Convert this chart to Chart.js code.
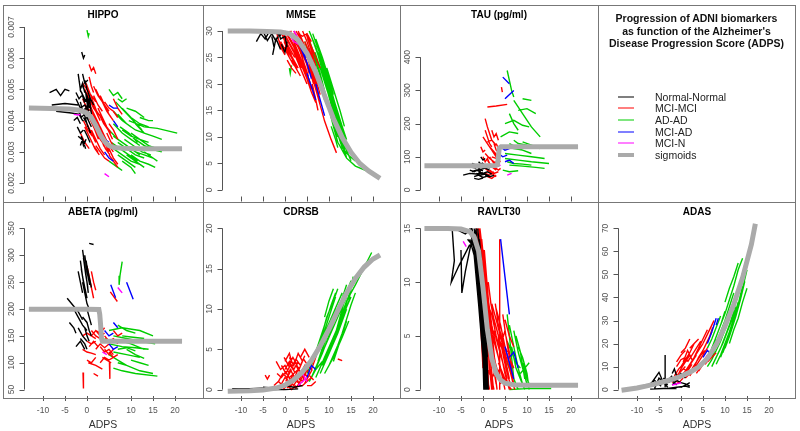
<!DOCTYPE html>
<html>
<head>
<meta charset="utf-8">
<script src="https://cdn.jsdelivr.net/npm/chart.js@4/dist/chart.umd.min.js"></script>
<style>
  body { margin: 0; background: #fff; }
  #wrap { position: relative; width: 800px; height: 431px; overflow: hidden; font-family: "Liberation Sans", Arial, sans-serif; }
  canvas { position: absolute; }
  .ln { position: absolute; background: #777; }
  .ttl { position: absolute; left: 598px; width: 197px; text-align: center; font-weight: bold; font-size: 10.5px; color: #111; }
  .leg { position: absolute; left: 655px; font-size: 10.5px; color: #222; line-height: 12px; }
  .sw { position: absolute; left: 618px; width: 16px; }
</style>
</head>
<body>
<div id="wrap">
  <canvas id="cHippo" width="198" height="197" style="left:3px;top:5px"></canvas>
  <canvas id="cMmse" width="198" height="197" style="left:201px;top:5px"></canvas>
  <canvas id="cTau" width="198" height="197" style="left:399px;top:5px"></canvas>
  <canvas id="cAbeta" width="198" height="229" style="left:3px;top:202px"></canvas>
  <canvas id="cCdrsb" width="198" height="229" style="left:201px;top:202px"></canvas>
  <canvas id="cRavlt" width="198" height="229" style="left:399px;top:202px"></canvas>
  <canvas id="cAdas" width="198" height="229" style="left:597px;top:202px"></canvas>

  <!-- marcos de los paneles -->
  <div class="ln" style="left:3px;top:5px;width:792px;height:1px"></div>
  <div class="ln" style="left:3px;top:202px;width:792px;height:1px"></div>
  <div class="ln" style="left:3px;top:398px;width:792px;height:1px"></div>
  <div class="ln" style="left:3px;top:5px;width:1px;height:394px"></div>
  <div class="ln" style="left:203px;top:5px;width:1px;height:394px"></div>
  <div class="ln" style="left:400px;top:5px;width:1px;height:394px"></div>
  <div class="ln" style="left:598px;top:5px;width:1px;height:394px"></div>
  <div class="ln" style="left:795px;top:5px;width:1px;height:394px"></div>

  <!-- panel de leyenda -->
  <div class="ttl" style="top:12px">Progression of ADNI biomarkers</div>
  <div class="ttl" style="top:24.5px">as function of the Alzheimer's</div>
  <div class="ttl" style="top:37px">Disease Progression Score (ADPS)</div>
  <div id="legend"></div>
</div>

<script>
// Datos: cada trayectoria es [x,y, x,y, ...] en unidades de ADPS y del biomarcador

let adpsTicks = [-10, -5, 0, 5, 10, 15, 20];
let groupNames = ['Normal-Normal', 'MCI-MCI', 'AD-AD', 'MCI-AD', 'MCI-N', 'sigmoids'];
let groupColors = ['#000000', '#ff0000', '#00cd00', '#0000ff', '#ff00ff', '#aaaaaa'];

// ---------------- HIPPO ----------------
let hippoTicks = [0.002, 0.003, 0.004, 0.005, 0.006, 0.007];
let hippoSig = [-13.2,0.0044, -8,0.00439, -4,0.00437, -2,0.00434, -1,0.0043, 0,0.00424, 1,0.0041, 2,0.00385, 3,0.00355, 4,0.00333, 5,0.0032, 6,0.00314, 8,0.00311, 12,0.0031, 21.6,0.0031];
let hippoNN = [
  [-8.5,0.0049, -7,0.0050, -6,0.0048, -5,0.0050, -4,0.00495],
  [-8,0.0045, -5,0.00455, -2,0.0045],
  [-7,0.0043, -4,0.00425, -1.5,0.0042],
  [-1.2,0.0062, -0.8,0.0060, -0.5,0.0061],
  [-2,0.0055, -1.5,0.0050, -1,0.0052, -0.5,0.0049],
  [-1,0.0051, 0,0.0048, 0.5,0.0046],
  [-2.5,0.0047, -1.5,0.0044, -0.5,0.0045, 0.5,0.0043],
  [-1.8,0.0042, -1,0.0040, 0,0.0041, 1,0.0038],
  [-2.2,0.0038, -1.5,0.0036, -0.8,0.0037],
  [-2,0.0035, -1.2,0.0034, -0.5,0.0033],
  [-0.5,0.0053, 0,0.0050, 0.8,0.0047, 1.5,0.0045],
  [-1.5,0.0046, -1,0.0043, -0.3,0.0044, 0.3,0.0040],
  [-0.8,0.0041, 0,0.0039, 0.8,0.0036],
  [-2.5,0.0049, -1.8,0.0047, -1.2,0.0048],
  [-1,0.0055, -0.5,0.0052, 0.2,0.0053],
  [-1.5,0.0032, -1,0.0034, -0.3,0.0031],
  [0,0.0045, 0.5,0.0042, 1.2,0.0041],
  [-3,0.0040, -2.2,0.0041, -1.5,0.0039],
  [-0.3,0.0049, 0.2,0.0044, 0.6,0.0047, 1,0.0042],
  [-1.2,0.0049, -0.6,0.0046, 0,0.0047, 0.6,0.0044],
  [-2,0.0044, -1.3,0.0041, -0.6,0.0042, 0.2,0.0038],
  [-1.6,0.0050, -0.9,0.0048, -0.2,0.0046],
  [-0.6,0.0037, 0.1,0.0035, 0.7,0.0033],
  [-1.3,0.0035, -0.8,0.0032, -0.2,0.0034]
];
let hippoMM = [
  [0.5,0.0058, 1,0.0056, 1.5,0.0057, 2,0.0055],
  [-1,0.0052, 0,0.0050, 1,0.0048, 2,0.0046],
  [0,0.0049, 1,0.0046, 2,0.0043, 3,0.0040],
  [-0.5,0.0045, 0.5,0.0042, 1.5,0.0040, 2.5,0.0037],
  [0.5,0.0041, 1.5,0.0038, 2.5,0.0035, 3.5,0.0033],
  [1,0.0037, 2,0.0034, 3,0.0031, 4,0.0029],
  [2,0.0050, 3,0.0047, 4,0.0045, 5,0.0043],
  [3,0.0048, 4,0.0045, 5,0.0042, 6,0.0040],
  [2.5,0.0044, 3.5,0.0041, 4.5,0.0038, 5.5,0.0036],
  [3,0.0038, 4,0.0035, 5,0.0032, 6,0.0030],
  [2,0.0032, 3,0.0030, 4,0.0028, 5,0.0027],
  [4,0.0034, 5,0.0031, 6,0.0028, 7,0.0026],
  [-1,0.0047, 0,0.0044, 1,0.0043],
  [0,0.0039, 1,0.0036, 2,0.0033],
  [1.5,0.0048, 2.5,0.0045, 3.5,0.0043],
  [4,0.0046, 5,0.0044, 6,0.0043, 7,0.0041],
  [5,0.0039, 6,0.0037, 7,0.0034],
  [3,0.0035, 4,0.0033, 5,0.0030],
  [5,0.0029, 6,0.0027, 7,0.0025],
  [-1.5,0.0036, -0.5,0.0033, 0.5,0.0031],
  [0.5,0.0054, 1,0.0051, 1.5,0.0049],
  [6,0.0047, 7,0.0044, 8,0.0042],
  [-0.5,0.0050, 0.5,0.0047, 1.5,0.0044, 2.5,0.0042],
  [0.3,0.0046, 1.3,0.0043, 2.3,0.0040, 3.3,0.0037],
  [1,0.0043, 2,0.0040, 3,0.0037, 4,0.0034],
  [1.8,0.0039, 2.8,0.0036, 3.8,0.0032, 4.8,0.0030],
  [0.8,0.0034, 1.8,0.0031, 2.8,0.0029],
  [2.8,0.0042, 3.8,0.0039, 4.8,0.0037, 5.8,0.0034],
  [3.5,0.0046, 4.5,0.0043, 5.5,0.0041],
  [-0.8,0.0040, 0.2,0.0037, 1.2,0.0035],
  [4.5,0.0036, 5.5,0.0033, 6.5,0.0031],
  [1.5,0.0051, 2.5,0.0048, 3.5,0.0046],
  [-0.2,0.0052, 0.6,0.0049, 1.4,0.0046, 2.2,0.0043],
  [0.2,0.0043, 1,0.0040, 1.8,0.0037, 2.6,0.0034],
  [1.2,0.0046, 2.2,0.0043, 3.2,0.0041, 4.2,0.0039],
  [2.2,0.0037, 3.2,0.0034, 4.2,0.0031, 5.2,0.0029],
  [-0.5,0.0038, 0.5,0.0035, 1.5,0.0032, 2.5,0.0030]
];
let hippoAD = [
  [0,0.0069, 0.3,0.0067, 0.5,0.0068],
  [5,0.0050, 6,0.0048, 7,0.0049, 8,0.0047],
  [7,0.0047, 8,0.0046, 9,0.0047],
  [9,0.0044, 11,0.0043, 13,0.0041],
  [7,0.0042, 9,0.0039, 11,0.0037, 13,0.0036],
  [9.5,0.0040, 13,0.0038, 16,0.00375, 20.5,0.0036],
  [6,0.0039, 8,0.0036, 10,0.0034, 12,0.0032],
  [8,0.0037, 10,0.0035, 12,0.0034, 14,0.0033],
  [6,0.0035, 8,0.0033, 10,0.0031, 12,0.0029],
  [7,0.0033, 9,0.0031, 11,0.0029, 13,0.0028],
  [9,0.0032, 11,0.0030, 13,0.0029, 15,0.0028],
  [6,0.0031, 8,0.0029, 10,0.0027, 12,0.0026],
  [7,0.0029, 9,0.0027, 11,0.0025],
  [10,0.0029, 12,0.0027, 14,0.0026, 15.5,0.0025],
  [8,0.0027, 10,0.0025, 11,0.0023],
  [5,0.0037, 7,0.0034, 9,0.0032],
  [11,0.0034, 13,0.0032, 15,0.0031],
  [6,0.0043, 8,0.0040, 10,0.0038],
  [12,0.0041, 14,0.0040, 15,0.0040],
  [5,0.0027, 7,0.0025, 8,0.0024],
  [8,0.0044, 10,0.0041, 12,0.0039, 14,0.0038],
  [10,0.0036, 12,0.0034, 14,0.0032, 16,0.0031],
  [13,0.0030, 15,0.0028, 16,0.0027],
  [7.5,0.0038, 9.5,0.0036, 11.5,0.0033],
  [9,0.0029, 11,0.0027, 13,0.0025],
  [12,0.0033, 14,0.0031, 17,0.0030],
  [6.5,0.0046, 8.5,0.0043, 10.5,0.0040, 12.5,0.0037],
  [5.5,0.0033, 7.5,0.0031, 9.5,0.0029, 11.5,0.0027],
  [11,0.0039, 13,0.0036, 15,0.0035, 17,0.0034],
  [8.5,0.0034, 10.5,0.0032, 12.5,0.0030, 14.5,0.0029]
];
let hippoMA = [
  [5,0.0045, 6,0.0044, 7,0.0044],
  [3,0.0036, 4,0.0034, 5,0.0033],
  [4,0.0030, 5,0.0028, 6,0.0027],
  [6,0.0040, 7,0.0038]
];
let hippoMN = [
  [-3,0.0042, -2,0.00418, -1.5,0.0042],
  [4,0.0023, 5,0.0022]
];

// ---------------- MMSE ----------------
let mmseTicks = [0, 5, 10, 15, 20, 25, 30];
let mmseSig = [-13,30, -8,30, -4,29.9, -1,29.8, 1,29.5, 3,28.3, 5,25.8, 7,22.2, 9,17.8, 11,13.5, 13,9.9, 15,7.1, 17,5.0, 19,3.6, 21.6,2.2];
let mmseNN = [
  [-6.5,28, -5.5,29.5, -4.5,28.5, -3.5,30],
  [-5,30, -4,28.2, -3,29.5, -2,28],
  [-3,29, -2.5,27, -2,28.5, -1,26.5],
  [-2.8,25.5, -2.2,28, -1.5,29],
  [-1.5,30, -1,28.5, 0,29, 0.5,27],
  [-2,29.8, -1.2,29, -0.5,30],
  [-0.8,27.5, 0,26, 0.5,28]
];
let mmseMM = [
  [-1,30, 0,29, 1,27.5, 2,26],
  [-0.5,29, 0.5,27, 1.5,25.5],
  [0,30, 1,28.5, 2,27, 3,25],
  [0.5,29.5, 1.5,28, 2.5,26, 3.5,24],
  [1,30, 2,28.5, 3,27, 4,25],
  [1.5,29, 2.5,27, 3.5,25, 4.5,23],
  [2,30, 3,28.5, 4,26.5, 5,24],
  [2.5,29, 3.5,27, 4.5,25, 5.5,22],
  [3,30, 4,28, 5,26, 6,23],
  [3.5,29, 4.5,27, 5.5,24, 6.5,21],
  [4,30, 5,28, 6,25.5, 7,22],
  [4.5,28, 5.5,26, 6.5,23, 7.5,20],
  [-1,28, 0,26.5, 1,25, 2,23.5],
  [0,27, 1,25, 2,23.5],
  [2,26, 3,24, 4,22, 5,20],
  [3,25, 4,23, 5,21, 6,19],
  [4,24, 5,22, 6,19.5, 7,17],
  [5,27, 6,24, 7,21, 8,18],
  [6,22, 7,19, 8,16, 9,13, 10.5,9.5, 11.7,7],
  [5,21, 6,18.5, 7,16.5],
  [1,26, 2,24.5, 3,23],
  [-0.5,30, 0.5,29.5, 1.5,30],
  [3,29.5, 4,29, 5,29.5, 6,28],
  [6,27, 7,25, 8,23],
  [0.5,24.5, 1.5,23, 2.5,22],
  [-0.8,29.5, 0.2,28, 1.2,26.5, 2.2,25],
  [0.2,29, 1.2,27.5, 2.2,26, 3.2,24],
  [0.8,28, 1.8,26.5, 2.8,25, 3.8,23],
  [1.8,29.5, 2.8,28, 3.8,26, 4.8,24],
  [2.3,28, 3.3,26.5, 4.3,24, 5.3,21.5],
  [3.3,29.5, 4.3,27.5, 5.3,25, 6.3,22],
  [3.8,28.5, 4.8,26, 5.8,23, 6.8,20],
  [4.3,27, 5.3,24.5, 6.3,21.5, 7.3,18.5],
  [4.8,29.5, 5.8,27, 6.8,24, 7.5,21],
  [1.2,28.5, 2.2,27, 3.2,25.5, 4.2,23.5],
  [2.7,26, 3.7,24, 4.7,22, 5.7,19.5],
  [3.5,27, 4.5,25, 5.5,23, 6.5,20],
  [5.5,25, 6.5,22, 7.3,19, 8,16],
  [5.2,29, 6,27, 6.8,25.5],
  [-0.2,28, 0.8,26, 1.8,24.5, 2.8,23],
  [2.5,30, 3.2,29, 4,28],
  [6.2,20, 7,17, 7.5,15],
  [1.5,24.5, 2.5,23, 3.5,21.5],
  [-2,30, -1.5,28.5, -1,27, 0,25.5],
  [-1.8,29, -1,27.5, -0.2,26]
];
let mmseAD = [
  [5,29.5, 6.5,26, 8,22, 9.5,17, 11,12, 12,9],
  [5.5,30, 7,27, 8.5,23, 10,18, 11.5,13, 12.5,10],
  [6,29, 7.5,25.5, 9,21, 10.5,16, 12,11, 13,8],
  [6.5,28, 8,24.5, 9.5,20, 11,15, 12.5,10, 13.5,7],
  [7,27, 8.5,23, 10,19, 11.5,14, 13,9.5, 14,6],
  [7.5,26, 9,22, 10.5,18, 12,13.5, 13.5,9],
  [8,25, 9.5,21, 11,17, 12.5,13, 14,8.5],
  [5,27, 6.5,24, 8,20, 9,17],
  [6,25, 7.5,21.5, 9,18, 10.5,14],
  [8,21, 9.5,17, 11,13, 12,10],
  [9,18, 10.5,14, 12,10.5, 13,8],
  [11,15, 12.5,11, 14,7.5, 15,5.5],
  [12,9, 14,6, 16,4.5, 19.5,3.3],
  [10,20, 11.5,16, 13,12, 14,9.5],
  [7,28.5, 8.5,25, 10,21, 11,18],
  [4.5,28, 5.5,25.5, 6.5,23],
  [6,26.5, 7,24, 8,21.5],
  [9.5,23, 11,19, 12.5,15, 13.5,12],
  [1,23, 1.2,22, 1.5,23.5],
  [10.5,12, 11.5,9.5, 12,8],
  [5.2,28.5, 6.7,25, 8.2,21, 9.7,16.5, 11,12.5],
  [6.3,29.5, 7.8,26, 9.3,22, 10.8,17, 12.2,12],
  [7.3,27.5, 8.8,23.5, 10.3,19.5, 11.8,15, 13.2,10.5],
  [8.5,24, 10,20, 11.5,15.5, 13,11, 14.5,7],
  [6.8,26, 8.2,22.5, 9.7,18.5, 11.2,14],
  [10.2,17, 11.7,13, 13.2,9, 14.8,6],
  [13,8, 14.5,6.5, 16,5.5]
];
let mmseMA = [
  [4,26, 5,24, 6,21],
  [5,22, 6,19.5, 7,17],
  [3,28, 4,26, 5,25],
  [7,20, 8,17, 9,14]
];
let mmseMN = [
  [1,29.5, 2,28, 3,27.5],
  [2,30, 2.8,29]
];

// ---------------- TAU ----------------
let tauTicks = [0, 100, 200, 300, 400];
let tauSig = [-13.3,73, -5,73, 0,73, 2.8,73.5, 3.3,76, 3.5,100, 3.7,126, 4.1,130, 8,130, 21.6,130];
let tauNN = [
  [-4.5,45, -3,50, -1.5,48, 0,52],
  [-3,60, -2,55, -1,62, 0,58],
  [-2.5,80, -1.5,75, -0.5,70],
  [-2,40, -1,45, 0,38, 1,42],
  [-1.5,70, -0.5,62, 0.5,66, 1.5,60],
  [-1,55, 0,50, 1,55, 2,48],
  [-3.5,72, -2.5,68, -1.5,66],
  [0,80, 0.5,70, 1,76, 1.5,65],
  [-0.5,100, 0,90, 0.5,95],
  [-2,35, -1,32, 0,36],
  [0.5,45, 1.5,40, 2.5,44],
  [-1,85, -0.5,78, 0,82],
  [-1.5,50, -0.5,45, 0.5,48, 1.5,42],
  [-2.5,55, -1.5,60, -0.5,55],
  [-1,65, 0,72, 1,68]
];
let tauMM = [
  [1,250, 3,253, 5.5,258],
  [0.5,215, 1,190, 1.5,170, 2,150],
  [0,160, 1,140, 2,120, 3,100],
  [0.5,110, 1.5,95, 2.5,85, 3.5,70],
  [1,90, 2,70, 3,60],
  [0,70, 1,60, 2,50, 3,40],
  [1.5,130, 2.5,115, 3.5,100],
  [-0.5,130, 0,115, 0.5,120],
  [2,180, 2.5,160, 3,170, 3.5,150],
  [4.2,310, 4.4,295],
  [2,100, 3,95, 4,85],
  [0.5,50, 1.5,45, 2.5,55],
  [3,140, 3.5,125, 4,130],
  [1,145, 2,150, 3,135],
  [0.5,180, 1,160, 1.5,140, 2,130],
  [1.5,100, 2.5,80, 3.5,90],
  [2.5,70, 3.5,60, 4,65],
  [1,40, 2,35, 3,45],
  [0,100, 0.5,85, 1,95, 1.5,80],
  [2.5,140, 3,120, 3.5,115],
  [1.5,60, 2.5,50, 3.5,55]
];
let tauAD = [
  [5.5,360, 6.5,300, 7,280],
  [7,270, 9,230, 11,190, 13,160],
  [9,275, 11,270],
  [8,240, 10,245, 12,230],
  [5,200, 7,210, 9,195, 10.5,190],
  [5,110, 8,105, 11,100, 14,95],
  [5,95, 8,90, 11,85, 15,80],
  [6,75, 9,72, 12,68, 14,65],
  [5,130, 7,125, 9,120],
  [4,160, 6,175, 8,170],
  [6,140, 7.5,130, 9,120, 11,110],
  [4.5,60, 6,55, 8,58],
  [9,145, 11,135, 13,125],
  [6,230, 7,200, 8,180],
  [5.5,85, 7,80, 9,78, 11,75],
  [7,150, 8,140, 10,135]
];
let tauMA = [
  [4.5,340, 6,320],
  [5,275, 7,300],
  [3.5,110, 4.5,100, 5.5,105],
  [5,85, 6,90, 7,80],
  [4,130, 5,120, 6,125]
];
let tauMN = [
  [3,70, 4,75],
  [5.5,45, 6.5,50]
];

// ---------------- ABETA ----------------
let abetaTicks = [50, 100, 150, 200, 250, 300, 350];
let abetaSig = [-13.2,199.5, -5,199.5, 0,199.5, 2.7,199, 2.9,190, 3.1,170, 3.3,145, 3.5,140, 8,140, 21.6,140];
let abetaNN = [
  [-1,310, -0.5,280, 0,250, 0.3,230],
  [-1.5,290, -1,260, -0.5,240, 0,220],
  [-0.5,300, 0,270, 0.5,250],
  [-2,270, -1.5,250, -1,230],
  [0,280, 0.5,260, 1,240],
  [-1,250, -0.5,230, 0,210, 0.5,200],
  [-4.5,220, -3,205, -2,195, -1,180],
  [-3,200, -2,185, -1,170, 0,160],
  [-4,175, -3,165, -2.5,155],
  [-2,165, -1,150, 0,140],
  [-1.5,145, -0.5,135, 0,125],
  [-1,185, 0,175, 0.5,160, 1,150],
  [0.5,322, 1.5,320],
  [-2.5,130, -1.5,140, -0.5,125],
  [0,200, 0.5,185, 1,170],
  [-0.5,165, 0,150, 0.5,140],
  [-0.8,295, -0.3,265, 0.2,240],
  [-1.3,275, -0.8,250, -0.3,225],
  [-0.2,290, 0.3,262, 0.6,245]
];
let abetaMM = [
  [0,280, 0.5,260, 1,240],
  [0.5,260, 1,240, 1.5,220],
  [1,270, 1.5,250, 2,235],
  [-1,150, 0,155, 1,150, 2,145],
  [-1,125, 0,120, 1,118, 2,115],
  [1,160, 2,150, 3,145, 4,140],
  [0.5,130, 1.5,140, 2.5,130],
  [0.3,100, 2,95, 3.5,88],
  [-0.9,82, -0.8,52],
  [3,130, 4,120, 5,125, 6,115],
  [4,150, 5,140, 6,145, 7,135],
  [5,120, 6,110, 7,115],
  [5.1,102, 5.2,70],
  [5.3,232, 6.9,214],
  [2,160, 3,155, 4,165],
  [3.5,110, 4.5,105, 5.5,100],
  [0,105, 1,100, 2,110],
  [6,160, 7,150, 8,155],
  [1,150, 2,160, 3,150, 4,155],
  [2,125, 3,135, 4,128, 5,135],
  [0,140, 1,135, 2,140],
  [3,100, 4,110, 5,105, 6,110],
  [4,125, 5,115, 6,125],
  [1.5,80, 2.5,75]
];
let abetaAD = [
  [8,288, 7.5,262, 7.3,245],
  [5,160, 8,165, 12,160, 15,150],
  [6,150, 9,145, 12,140, 15.5,135],
  [5,135, 8,130, 11,128, 14,125],
  [6,120, 9,115, 12,110],
  [7,100, 9,95, 12,85, 15,80],
  [5,115, 7,105, 9,95],
  [6,90, 8,85, 11,80, 16,75],
  [8,140, 10,135, 13,125],
  [4,145, 6,140, 8,138],
  [7,170, 9,160, 11,155],
  [9,125, 11,115, 13,108],
  [8,150, 10,148, 13,145],
  [7,125, 9,128, 11,122],
  [10,105, 12,100, 14,95]
];
let abetaMA = [
  [5.4,245, 6.5,221],
  [9,250, 10.5,218],
  [4,160, 5,150, 6,155],
  [5,135, 6,125, 7,130],
  [6,175, 7,165]
];
let abetaMN = [
  [3.5,120, 4.5,115],
  [7,240, 8,230]
];

// ---------------- CDRSB ----------------
let cdrsbTicks = [0, 5, 10, 15, 20];
let cdrsbSig = [-13,-0.2, -8,-0.15, -5,-0.05, -2,0.2, 0,0.55, 2,1.2, 4,2.2, 6,3.6, 8,5.4, 10,7.5, 12,9.8, 14,12.0, 16,13.8, 18,15.2, 20,16.2, 21.6,16.7];
let cdrsbNN = [
  [-12,0.1, -8,0.1, -4,0.2],
  [-3,0, 0,0, 3,0.1],
  [0,0.5, 2,0.3, 4,0.5],
  [-5,0.3, -3,0.2, -1,0.4]
];
let cdrsbMM = [
  [-4.5,1.8, -4,1.3, -3.5,1.8],
  [-2,3.5, -1,2.5, 0,3, 1,2],
  [-1.5,1, -0.5,2, 0.5,1.5, 1.5,2.5],
  [-1,0.5, 0,1.5, 1,1, 2,2],
  [0,2.5, 1,3.5, 2,2.5, 3,3.5],
  [0.5,0.5, 1.5,1.5, 2.5,1, 3.5,2],
  [1,4, 2,3, 3,4.5, 4,3.5],
  [2,0.5, 3,1.5, 4,1, 5,2.5],
  [2.5,3, 3.5,2, 4.5,3, 5.5,2],
  [-0.5,0, 0.5,0.5, 1.5,0, 2.5,0.5],
  [3,0.5, 4,0.5, 5,1, 6,1.5],
  [1,1.5, 2,2, 3,2.5, 4,2],
  [-2.5,0.5, -1.5,1, -0.5,0.5],
  [4,1.5, 5,3, 6,2.5, 7,4],
  [3.5,4, 4.5,5, 5.5,4],
  [0,3.5, 1,4.5, 1.5,3.5],
  [5,0.5, 6,0.5, 7,1],
  [1.5,1, 2.5,1.5, 3.5,0.5],
  [12,3.8, 13,3.6],
  [-1.8,2, -0.8,1.5, 0.2,2.2, 1.2,1.2],
  [-0.8,3, 0.2,2, 1.2,3, 2.2,2.2],
  [0.2,1, 1.2,2.5, 2.2,1.5, 3.2,2.8],
  [1.2,0.3, 2.2,1.2, 3.2,0.8, 4.2,1.8],
  [2.2,3.5, 3.2,2.5, 4.2,3.8, 5.2,3],
  [3.2,1.2, 4.2,2.2, 5.2,1.5, 6.2,2.5],
  [-0.2,4, 0.8,3, 1.8,4, 2.8,3],
  [1.5,2.8, 2.5,3.8, 3.5,3, 4.5,4.2],
  [4.5,0.8, 5.5,1.8, 6.5,1.2],
  [0.5,0.2, 1.5,0.8, 2.5,0.2, 3.5,1]
];
let cdrsbAD = [
  [5,2, 7,4.5, 9,7, 11,9.5, 13,12],
  [6,1.5, 8,4, 10,6.5, 12,9, 14,11.5],
  [7,1.5, 9,4, 11,6.5, 13,9, 15,11.5],
  [8,2, 10,4.5, 12,7, 14,10],
  [6,3, 7.5,5.5, 9,8, 10.5,10.5, 11.5,12],
  [7,2.5, 8.5,5, 10,7.5, 11.5,10],
  [9,2, 11,4, 13,6.5, 14.5,8.5],
  [10,3, 12,5.5, 13,7, 15,10.5, 16,12],
  [12,8, 14,11, 16,13, 19.7,17],
  [11,6, 12.5,9, 14,12, 15,13.5],
  [8,6, 9.5,9, 11,11, 12,12.5],
  [5.5,1, 7,2.5, 8.5,3.5],
  [9,9, 10,11, 11,12.5],
  [13,9, 14.5,11, 15.5,14],
  [7.5,3.5, 9,6, 10,8],
  [6.5,2, 8.5,4.5, 10.5,7.5, 12.5,10.5, 14,13],
  [8.5,3, 10.5,5.5, 12.5,8, 14.5,11],
  [9.5,4, 11.5,7, 13.5,10, 15,12.5],
  [7,4, 8.5,6.5, 10,9, 11.5,11.5],
  [11,3.5, 12.5,6, 14,8.5]
];
let cdrsbMA = [
  [5,1.5, 6,3, 7,2.5],
  [6,3.5, 7,4.5, 8,5],
  [4.5,2.5, 5.5,3.5]
];
let cdrsbMN = [
  [3,0.5, 4,1, 5,1.5],
  [4,2, 5,1]
];

// ---------------- RAVLT30 ----------------
let ravltTicks = [0, 5, 10, 15];
let ravltSig = [-13.3,15, -8,15, -5,14.95, -3,14.7, -2,14.2, -1,12.9, 0,9.5, 1,5.6, 2,2.9, 3,1.5, 4,0.9, 5,0.6, 7,0.45, 10,0.4, 21.6,0.4];
let ravltNN = [
  [-7,15, -6.5,12, -7.2,10, -5.5,11.5, -3,13.5],
  [-5,13, -4.8,9, -4,11, -2.5,14],
  [-6.5,15, -4,14.5, -2.5,15],
  [-3,15, -2,13, -1,10, 0,6, 0.5,3, 1,0],
  [-2.5,15, -1.5,12, -0.5,8, 0.3,4, 0.8,0],
  [-2,15, -1,11, 0,7, 0.5,2, 0.6,0],
  [-1.5,14, -0.8,10, 0,5, 0.3,0],
  [-3,14, -2,12.5, -1,8, 0,3, 0.2,0],
  [-1,13, 0,9, 0.8,4, 1.2,0],
  [-2,14.5, -1.2,12, -0.3,9, 0.4,5],
  [-1.2,15, -0.5,12, 0.5,7, 1,3],
  [-3.5,14, -2.5,13.5, -1.5,15],
  [-2.7,15, -1.8,12.5, -0.8,9, 0,4, 0.4,0],
  [-2.2,14, -1.4,11, -0.6,7, 0.1,2.5, 0.4,0],
  [-1.6,15, -0.9,12, -0.2,8, 0.5,3.5, 0.9,0],
  [-0.8,14, -0.2,11, 0.4,7, 0.9,2]
];
let ravltMM = [
  [-1.5,15, -0.5,13, 0,10, 0.5,7, 1,3, 1.3,0],
  [-1,15, 0,12, 0.5,9, 1,5, 1.5,2, 2,0],
  [-0.5,14, 0.5,11, 1,7, 1.5,4, 2,1, 2.5,0],
  [0,13, 0.8,10, 1.5,6, 2,3, 3,0.5],
  [-1.8,13, -1,11, -0.5,7.5, 0,5],
  [0.5,12, 1,9, 2,6, 3,4, 4,2, 5,0.5],
  [1,8, 2,7, 3,5, 4,3.5, 5,1.5, 6,0],
  [1.5,6, 2.5,4.5, 3.5,3, 4.5,1, 5,0],
  [2,8, 3,6.5, 4,5, 5,3, 6,1],
  [3,7.5, 4,6, 5,4, 6,2.5, 7,0.5],
  [2.5,5.5, 3.5,4, 4.5,2.5, 5.5,1],
  [3.8,0, 3.8,14],
  [4,4, 5,5.5, 6,3, 7,2],
  [1,2, 2,1, 3,2, 4,0.5],
  [-1,10, -0.5,6, 0,2],
  [5,6.5, 6,5, 7,4],
  [2,3, 3,1.5, 4,2, 5,0],
  [-1.2,14.5, -0.6,12, 0,9, 0.6,6, 1,2.5, 1.3,0],
  [-0.7,15, 0,12.5, 0.6,9.5, 1.2,6, 1.7,3, 2.2,0],
  [-0.3,14, 0.3,11.5, 0.9,8.5, 1.4,5, 1.9,2, 2.4,0],
  [0.3,13, 0.9,10, 1.5,7, 2,4.5, 2.6,2, 3.2,0],
  [0.6,11, 1.3,8, 2,5.5, 2.6,3, 3.4,1],
  [1.2,10, 1.8,8, 2.5,6.5, 3.5,5, 4,3],
  [2.2,7, 3.2,5.5, 4.2,4, 5.2,2, 6.2,0.5],
  [3.3,6, 4.3,4.5, 5.3,3, 6.3,1.5, 7.2,0],
  [4.5,7, 5.2,5, 6,3.5, 6.8,1],
  [1.8,4, 2.8,2.5, 3.8,1, 4.8,0.5],
  [2.8,8, 3.5,6, 4.5,4.5, 5.5,3.5],
  [-0.2,5, 0.5,3, 1,1, 1.5,0],
  [3.5,2.5, 4.5,1.5, 5.5,0.5, 6.5,0]
];
let ravltAD = [
  [5.5,7, 6,5, 6.5,3, 7,1],
  [6,6, 7,4, 8,2, 9,0.5],
  [7,5.5, 8,3.5, 9,2, 10,0.5],
  [6.5,4, 7.5,2, 8.5,1, 9.5,0],
  [8,4, 9,3, 10,1.5, 10.5,0],
  [5,3, 6,2, 7,1, 8,0],
  [8.5,1.5, 9.5,2, 10.5,2.5],
  [6,0, 10,0.1, 15.5,0.1],
  [7.5,5, 8.5,3.5, 9.5,1],
  [5.5,4.5, 6.5,3.5, 7.5,2.5, 8.5,2],
  [9,2.5, 10,1, 10.5,0.5]
];
let ravltMA = [
  [4,14, 5,10.5, 6,7],
  [5,4, 6,2.5, 7,1],
  [6,3, 7,3.5, 8,2]
];
let ravltMN = [
  [-4.5,13.8, -3.8,13.3],
  [0.5,8, 1,6.5]
];

// ---------------- ADAS ----------------
let adasTicks = [0, 10, 20, 30, 40, 50, 60, 70];
let adasSig = [-13.5,-0.3, -10,0.7, -8,1.5, -6,2.4, -4,3.4, -2,4.5, 0,5.8, 2,7.5, 4,9.8, 6,13.5, 8,19.5, 10,27.5, 12,37, 14,48.5, 16,63, 16.9,72];
let adasNN = [
  [-9,0.5, -7,2, -5,7.5, -4,3, -3,1],
  [-8,1, -6,4, -4.5,1.5],
  [-6,0.5, -5,5, -3,2],
  [-3.6,15, -3.6,1],
  [-4,5, -3,3, -2,4, -1,2],
  [-2,2, -1,4, 0,3, 1,2.5, 2,1.5],
  [-3,0.5, -1,1, 1,1.5, 2,1],
  [-1,5, 0,7, 1,5],
  [-2,7, -1.5,9, -1,6],
  [-5,2, -3,4, -2,6],
  [0,1, 1,2, 2,3],
  [-7,0.2, -4,0.5, -1,0.5]
];
let adasMM = [
  [-2,3, -1,6, 0,8, 1,10],
  [-1,5, 0,9, 1,12, 2,15],
  [0,10, 1,13, 2,16, 3,20],
  [0,16, 1,18, 2,22],
  [1,8, 2,11, 3,14, 4,17, 5,20],
  [2,6, 3,9, 4,12, 5,15, 6,18],
  [3,10, 4,14, 5,17, 6,21, 7,25],
  [4,8, 5,11, 6,14, 7,17, 8,20],
  [5,20, 6,24, 7,28, 7.5,30],
  [-1,10, 0,13, 1,14],
  [1,5, 2,7, 3,8, 4,10],
  [2,18, 3,20, 4,22],
  [6,12, 7,14, 8,16],
  [-1.5,4, -0.5,3, 0.5,5],
  [3,14, 4,18, 5,22, 6,26],
  [0.5,12, 1.5,17, 2.5,13],
  [-1.5,6, -0.5,9, 0.5,11, 1.5,13],
  [0.5,7, 1.5,9, 2.5,12, 3.5,15],
  [1.5,12, 2.5,15, 3.5,18, 4.5,21],
  [2.5,9, 3.5,12, 4.5,15, 5.5,17],
  [3.5,7, 4.5,10, 5.5,13, 6.5,16],
  [4.5,15, 5.5,19, 6.5,23, 7.2,27],
  [-0.5,7, 0.5,9, 1.5,8, 2.5,11],
  [5.5,11, 6.5,14, 7.5,18],
  [-1,12, 0,15, 1,17]
];
let adasAD = [
  [6,10, 7,13, 8,17, 9,21, 10,26, 11,31],
  [7,10, 8,14, 9,18, 10,23, 11,28, 12,34],
  [8,11, 9,15, 10,20, 11,25, 12,31, 13,38],
  [9,14, 10,19, 11,24, 12,30, 13,37, 14,45],
  [10,18, 11,23, 12,29, 13,36, 14,44, 15,52],
  [8,20, 9,25, 10,30, 11,36, 12,42],
  [9,28, 10,33, 11,39, 12,45, 13,52, 14,57],
  [7,18, 8,23, 9,28, 10,34],
  [10,38, 11,44, 12,49, 13,55],
  [6,14, 7,17, 8,22],
  [11,20, 12,26, 13,31, 14,38, 15,44],
  [6,18, 7,22, 8,27, 9,32],
  [12,35, 13,42, 14,50, 15,55],
  [7.5,12, 8.5,16, 9.5,20, 10.5,25, 11.5,30, 12.5,36],
  [8.5,13, 9.5,17, 10.5,22, 11.5,27, 12.5,33, 13.5,40],
  [9.5,16, 10.5,21, 11.5,26, 12.5,32, 13.5,39, 14.5,47],
  [10.5,30, 11.5,35, 12.5,40, 13.5,47, 14.5,54],
  [7,14, 8,19, 9,23, 10,28]
];
let adasMA = [
  [6,20, 7,25, 8,31],
  [5,14, 6,17, 7,15],
  [8,28, 8.5,31]
];
let adasMN = [
  [-2,2, 0,3],
  [5,12, 6,15]
];


// ---------------- utilidades ----------------

// convierte una lista de trayectorias en un dataset con cortes (y = null) entre ellas
function traces(list, color, order) {
    let pts = [];
    list.forEach(t => {
        for (let i = 0; i < t.length; i += 2) pts.push({ x: t[i], y: t[i + 1] });
        pts.push({ x: t[t.length - 2], y: null });
    });
    return {
        data: pts,
        borderColor: color,
        borderWidth: 1.4,
        showLine: true,
        spanGaps: false,
        pointRadius: 0,
        order: order
    };
}

function sigmoid(flat) {
    let pts = [];
    for (let i = 0; i < flat.length; i += 2) pts.push({ x: flat[i], y: flat[i + 1] });
    return {
        data: pts,
        borderColor: groupColors[5],
        borderWidth: 5,
        showLine: true,
        pointRadius: 0,
        order: 0
    };
}

// ejes al estilo de R: linea del eje y, marcas hacia fuera y etiquetas giradas
const rAxes = {
    id: 'rAxes',
    afterDraw(chart, args, opts) {
        const ctx = chart.ctx;
        const a = chart.chartArea;
        const sx = chart.scales.x;
        const sy = chart.scales.y;
        ctx.save();
        ctx.strokeStyle = '#555';
        ctx.fillStyle = '#555';
        ctx.lineWidth = 1;

        // eje y
        const xl = Math.round(a.left) + 0.5;
        const yt = opts.yTicks;
        ctx.beginPath();
        ctx.moveTo(xl, sy.getPixelForValue(yt[0]));
        ctx.lineTo(xl, sy.getPixelForValue(yt[yt.length - 1]));
        yt.forEach(v => {
            let p = Math.round(sy.getPixelForValue(v)) + 0.5;
            ctx.moveTo(xl, p);
            ctx.lineTo(xl - 5, p);
        });
        ctx.stroke();
        ctx.font = '8.5px "Liberation Sans", Arial, sans-serif';
        ctx.textAlign = 'center';
        ctx.textBaseline = 'middle';
        yt.forEach(v => {
            ctx.save();
            ctx.translate(xl - 13, sy.getPixelForValue(v));
            ctx.rotate(-Math.PI / 2);
            ctx.fillText(opts.fmt(v), 0, 0);
            ctx.restore();
        });

        // marcas del eje x (etiquetas solo en la fila de abajo)
        ctx.beginPath();
        adpsTicks.forEach(v => {
            let p = Math.round(sx.getPixelForValue(v)) + 0.5;
            ctx.moveTo(p, a.bottom);
            ctx.lineTo(p, a.bottom + 5);
        });
        ctx.stroke();
        if (opts.xLabels) {
            adpsTicks.forEach(v => {
                ctx.fillText(String(v), sx.getPixelForValue(v), a.bottom + 15);
            });
            ctx.fillStyle = '#333';
            ctx.font = '10.5px "Liberation Sans", Arial, sans-serif';
            ctx.fillText('ADPS', 100, a.bottom + 29);
        }

        // titulo del panel
        ctx.fillStyle = '#000';
        ctx.font = 'bold 10px "Liberation Sans", Arial, sans-serif';
        ctx.fillText(opts.title, 100, 10);
        ctx.restore();
    }
};

function makePanel(id, title, groups, sig, yMin, yMax, yTicks, fmt, bottomRow) {
    let datasets = [sigmoid(sig)];
    // orden de dibujo: verde abajo, luego rojo, negro, azul, magenta
    let orders = [3, 4, 5, 2, 1];
    groups.forEach((g, i) => datasets.push(traces(g, groupColors[i], orders[i])));

    return new Chart(document.getElementById(id), {
        type: 'scatter',
        data: { datasets: datasets },
        options: {
            responsive: false,
            animation: false,
            events: [],
            layout: {
                padding: bottomRow
                    ? { left: 20.6, right: 12.8, top: 20, bottom: 35 }
                    : { left: 20.6, right: 12.8, top: 21, bottom: 5.5 }
            },
            scales: {
                x: { type: 'linear', min: -14.4, max: 23, display: false },
                y: { type: 'linear', min: yMin, max: yMax, display: false }
            },
            plugins: {
                legend: { display: false },
                tooltip: { enabled: false },
                rAxes: { title: title, yTicks: yTicks, fmt: fmt, xLabels: bottomRow }
            }
        },
        plugins: [rAxes]
    });
}

const plain = v => String(v);

makePanel('cHippo', 'HIPPO', [hippoNN, hippoMM, hippoAD, hippoMA, hippoMN], hippoSig,
    0.001567, 0.007032, hippoTicks, v => v.toFixed(3), false);
makePanel('cMmse', 'MMSE', [mmseNN, mmseMM, mmseAD, mmseMA, mmseMN], mmseSig,
    -1.23, 30.94, mmseTicks, plain, false);
makePanel('cTau', 'TAU (pg/ml)', [tauNN, tauMM, tauAD, tauMA, tauMN], tauSig,
    -19.6, 494, tauTicks, plain, false);
makePanel('cAbeta', 'ABETA (pg/ml)', [abetaNN, abetaMM, abetaAD, abetaMA, abetaMN], abetaSig,
    38.1, 361.9, abetaTicks, plain, true);
makePanel('cCdrsb', 'CDRSB', [cdrsbNN, cdrsbMM, cdrsbAD, cdrsbMA, cdrsbMN], cdrsbSig,
    -0.79, 20.79, cdrsbTicks, plain, true);
makePanel('cRavlt', 'RAVLT30', [ravltNN, ravltMM, ravltAD, ravltMA, ravltMN], ravltSig,
    -0.593, 15.6, ravltTicks, plain, true);
makePanel('cAdas', 'ADAS', [adasNN, adasMM, adasAD, adasMA, adasMN], adasSig,
    -2.77, 72.77, adasTicks, plain, true);

// leyenda en el panel de arriba a la derecha (lineas finas suavizadas como en el original)
let legRows = [96.7, 108.3, 120, 131.7, 143.3, 155];
let legBox = document.getElementById('legend');
groupNames.forEach((name, i) => {
    let sw = document.createElement('div');
    sw.className = 'sw';
    let h = i === 5 ? 4 : 2;
    sw.style.top = Math.round(legRows[i] - h / 2) + 'px';
    sw.style.height = h + 'px';
    sw.style.background = groupColors[i];
    sw.style.opacity = i === 5 ? 1 : 0.5;
    legBox.appendChild(sw);
    let t = document.createElement('div');
    t.className = 'leg';
    t.style.top = (legRows[i] - 6) + 'px';
    t.textContent = name;
    legBox.appendChild(t);
});
</script>
</body>
</html>
